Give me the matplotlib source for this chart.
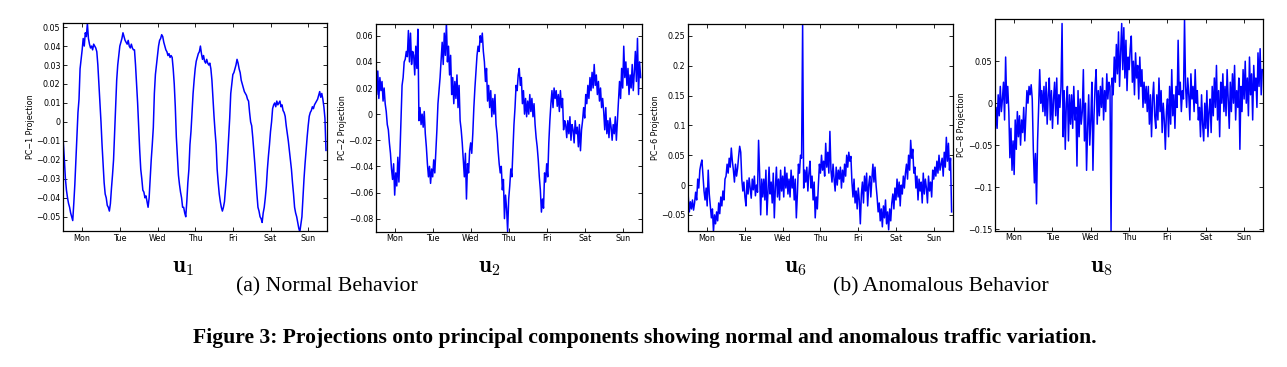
import numpy as np
import matplotlib.pyplot as plt
from matplotlib.ticker import FuncFormatter

plt.rcParams['mathtext.fontset'] = 'cm'

days = ["Mon", "Tue", "Wed", "Thu", "Fri", "Sat", "Sun"]
samples_per_day = 36  # one value every 40 minutes, values in thousandths

# PC-1 projection (normal behaviour), one row per day
pc1 = [
    [-11, -20, -30, -36, -40, -43, -45, -48, -50, -52, -43, -33, -20, -8, 5, 12, 28, 33,
     38, 44, 40, 47, 45, 52, 44, 41, 39, 40, 38, 41, 40, 39, 37, 30, 20, 10],
    [0, -12, -22, -32, -38, -40, -44, -45, -47, -43, -35, -28, -20, -6, 8, 22, 30, 35,
     40, 42, 44, 47, 45, 43, 42, 41, 43, 40, 39, 41, 39, 38, 38, 30, 20, 10],
    [-3, -15, -25, -30, -36, -37, -40, -39, -42, -45, -40, -30, -20, -12, -3, 15, 25, 30,
     35, 40, 43, 44, 46, 45, 42, 40, 38, 37, 35, 36, 34, 35, 34, 28, 20, 8],
    [-8, -18, -28, -33, -37, -40, -45, -45, -48, -50, -42, -32, -25, -12, -5, 5, 15, 22,
     28, 32, 34, 36, 37, 40, 36, 33, 35, 32, 31, 33, 31, 30, 31, 28, 22, 12],
    [3, -5, -12, -25, -32, -38, -42, -45, -47, -45, -42, -35, -28, -18, -8, 2, 15, 20,
     25, 26, 28, 30, 33, 31, 28, 26, 22, 20, 18, 16, 15, 14, 12, 11, 5, 0],
    [-2, -8, -15, -22, -30, -38, -45, -47, -50, -51, -53, -48, -45, -40, -34, -25, -18, -12,
     -5, 0, 7, 9, 10, 8, 11, 9, 10, 11, 8, 9, 6, 5, 3, -2, -6, -10],
    [-15, -20, -25, -32, -38, -45, -48, -50, -53, -56, -58, -54, -50, -40, -30, -22, -15, -8,
     -2, 3, 5, 6, 8, 7, 9, 10, 11, 12, 14, 16, 13, 15, 12, 8, 2, -15],
]

# PC-2 projection (normal behaviour)
pc2 = [
    [30, 15, 33, 12, 28, 18, 25, 10, 20, 8, 2, -8, -12, -22, -30, -42, -50, -38,
     -62, -45, -55, -33, -52, -30, -5, 22, 28, 40, 42, 48, 44, 64, 40, 62, 38, 48],
    [45, 30, 52, 35, 65, -5, 5, -8, 0, -10, 2, -15, -25, -38, -48, -40, -53, -42,
     -48, -35, -45, -28, -12, 8, 18, 28, 42, 55, 38, 62, 45, 70, 40, 52, 30, 45],
    [15, 28, 8, 25, 12, 30, 5, 22, -5, -12, -22, -35, -48, -30, -65, -38, -45, -28,
     -22, -30, -15, 5, 20, 32, 45, 52, 48, 60, 55, 62, 48, 40, 25, 35, 10, 22],
    [5, 18, -2, 12, 0, 15, -8, -15, -28, -38, -45, -40, -58, -50, -80, -62, -72, -90,
     -65, -55, -42, -48, -28, -8, 5, 22, 18, 30, 35, 22, 28, 8, 18, 0, 12, -2],
    [10, 0, 15, 2, 12, -2, 8, -8, -18, -25, -35, -48, -58, -75, -65, -72, -45, -52,
     -38, -48, -22, -5, 8, 18, 5, 20, 12, 18, 6, 15, 2, 18, 5, 12, -12, -5],
    [-8, -18, -5, -15, -2, -20, -8, -12, -22, -5, -15, -10, -25, -8, -28, -12, -5, 5,
     -3, 15, 8, 22, 12, 28, 18, 32, 20, 38, 22, 30, 15, 25, 10, 20, 5, 12],
    [2, -12, 5, -15, -5, -18, -3, -10, -20, -8, -15, -2, -20, -5, 10, 25, 12, 35,
     20, 52, 28, 40, 22, 35, 15, 30, 20, 38, 18, 32, 48, 25, 58, 15, 40, 28],
]

# PC-6 projection (anomalous behaviour)
pc6 = [
    [-20, -45, -28, -40, -25, -42, -30, -12, -25, 10, -5, 25, 35, 42, 15, -10, -25, -5,
     -35, 25, -15, -35, -55, -40, -78, -50, -65, -45, -60, -30, -48, -20, -35, -10, -25, 10],
    [15, 35, 20, 45, 30, 62, 40, 25, 5, 35, 15, 28, 48, 65, 55, 10, -10, 5,
     -20, -35, 8, -15, 12, -5, -22, 10, -8, 15, -18, 0, -12, 75, 20, -50, 10, -20],
    [10, -25, 25, -50, -10, 30, -15, 5, -30, 20, -55, -5, 30, -20, 10, -25, 25, -10,
     15, -20, 30, -5, 20, -15, 10, -20, 25, -5, 15, -25, 10, -55, -15, 35, 20, 50],
    [45, 270, -5, 25, 5, 30, -10, 20, 40, -5, 15, -25, 5, -55, -20, -40, 0, 35,
     20, 50, 25, 40, 15, 70, 30, 55, 20, 90, 25, 5, 35, 10, -10, 30, 0, 25],
    [10, 30, -5, 25, 5, 35, 15, 50, 30, 55, 40, 48, 5, -20, 10, -30, -10, -40,
     -5, -25, -65, -15, 5, -30, 15, -10, 20, -35, 0, 15, -20, 10, 35, 5, 30, 0],
    [-20, -45, -30, -60, -40, -70, -35, -55, -25, -65, -45, -75, -40, -60, -30, -15, -40, -5,
     -25, 10, -20, 5, -35, 0, -15, 15, -5, 20, 35, 10, 50, 25, 75, 45, 60, 20],
    [30, -5, 15, -25, 10, -10, 5, -30, 20, -15, 10, -5, -30, 15, -10, 5, -20, 25,
     10, 30, 15, 40, 20, 50, 25, 35, 45, 15, 55, 30, 80, 40, 70, 25, 45, -45],
]

# PC-8 projection (anomalous behaviour)
pc8 = [
    [-40, -5, -30, 10, -15, 20, -10, 5, 25, -20, 55, 0, 20, -10, -65, -30, -80, -45,
     -85, -20, -55, -10, -40, -15, -50, -20, -35, -5, -45, -15, 15, 0, 20, 10, 22, 5],
    [-55, -95, -60, -120, -45, -5, 40, 0, 15, -10, 20, -15, 25, -25, 10, 30, -20, 15,
     -30, 5, 25, -15, 30, -25, 10, -5, 20, 95, -40, 15, -55, 0, 20, -45, 10, -25],
    [10, -30, 20, -20, -5, -75, 15, -40, 5, -25, -10, 40, -45, 0, -80, -30, 10, -50,
     -20, 25, -80, -15, 20, 40, -25, 15, -15, 20, -5, 30, -20, 15, -10, 35, 5, 25],
    [20, -152, 30, 10, 55, 25, 70, 35, 85, 20, 60, 95, 40, 90, 30, 75, 15, 55,
     40, 65, 80, 25, 50, 10, 60, 30, 45, 5, 55, 20, 40, -5, 25, 0, 20, -10],
    [20, -25, 10, -40, 5, 25, -15, -30, 10, -20, 30, -10, 15, -35, 0, -20, -55, -10,
     5, -40, 20, -25, 40, -15, 10, -30, 20, -5, 75, 10, 25, -10, 15, 5, 100, 20],
    [-5, 30, 10, -20, 35, 5, 20, -10, 40, 0, 15, -20, -5, -40, 10, -25, -45, 0,
     -30, 15, -40, -10, 5, -35, 20, -15, 30, -5, 45, -20, 15, -40, 25, 0, 35, -10],
    [20, -15, 40, 5, -30, 25, -10, 35, 0, 45, -20, 15, -5, 30, -55, 20, -10, 40,
     5, 50, 0, 30, -15, 55, 10, 35, -20, 45, 15, 30, -5, 60, 20, 65, 10, 40],
]

series = [pc1, pc2, pc6, pc8]
ylabels = ["PC\u22121 Projection", "PC\u22122 Projection", "PC\u22126 Projection", "PC\u22128 Projection"]
ylims = [(-0.0575, 0.052), (-0.090, 0.069), (-0.077, 0.270), (-0.152, 0.100)]
yticks = [
    [-0.05, -0.04, -0.03, -0.02, -0.01, 0, 0.01, 0.02, 0.03, 0.04, 0.05],
    [-0.08, -0.06, -0.04, -0.02, 0, 0.02, 0.04, 0.06],
    [-0.05, 0, 0.05, 0.1, 0.15, 0.2, 0.25],
    [-0.15, -0.1, -0.05, 0, 0.05],
]
u_labels = [r"$\mathbf{u}_1$", r"$\mathbf{u}_2$", r"$\mathbf{u}_6$", r"$\mathbf{u}_8$"]

# axes rectangles in figure fractions
boxes = [
    [0.0492, 0.3706, 0.2049, 0.5659],
    [0.2919, 0.3687, 0.2067, 0.5659],
    [0.5348, 0.3706, 0.2054, 0.5640],
    [0.7731, 0.3714, 0.2085, 0.5760],
]
u_x = [183, 489, 795, 1101]

fmt = FuncFormatter(lambda v, pos: f"{v:g}".replace("-", "\u2212"))

fig = plt.figure(figsize=(12.87, 3.67), dpi=100)

for i in range(4):
    vals = np.array(series[i], dtype=float).ravel() / 1000.0
    t = np.arange(len(vals)) / samples_per_day
    ax = fig.add_axes(boxes[i])
    ax.plot(t, vals, color="#0000ff", lw=1.1)
    ax.set_xlim(0, 7)
    ax.set_ylim(*ylims[i])
    ax.set_xticks(np.arange(7) + 0.5)
    ax.set_xticklabels(days)
    ax.set_yticks(yticks[i])
    ax.yaxis.set_major_formatter(fmt)
    ax.tick_params(direction="in", length=3, width=0.6, top=True, right=True,
                   labelsize=5.8, pad=2)
    for s in ax.spines.values():
        s.set_linewidth(0.9)
    ax.set_ylabel(ylabels[i], fontsize=5.8, labelpad=1)
    fig.text(u_x[i] / 1287, 1 - 266 / 367, u_labels[i], fontsize=16.5,
             ha="center", va="center")

fig.text(327 / 1287, 1 - 287 / 367, "(a) Normal Behavior", fontsize=15.7,
         family="Liberation Serif", ha="center", va="center")
fig.text(941 / 1287, 1 - 287 / 367, "(b) Anomalous Behavior", fontsize=15.7,
         family="Liberation Serif", ha="center", va="center")
fig.text(645 / 1287, 1 - 338 / 367,
         "Figure 3: Projections onto principal components showing normal and anomalous traffic variation.",
         fontsize=15.6, family="Liberation Serif", weight="bold", ha="center", va="center")

fig.savefig("out.png", dpi=100)
